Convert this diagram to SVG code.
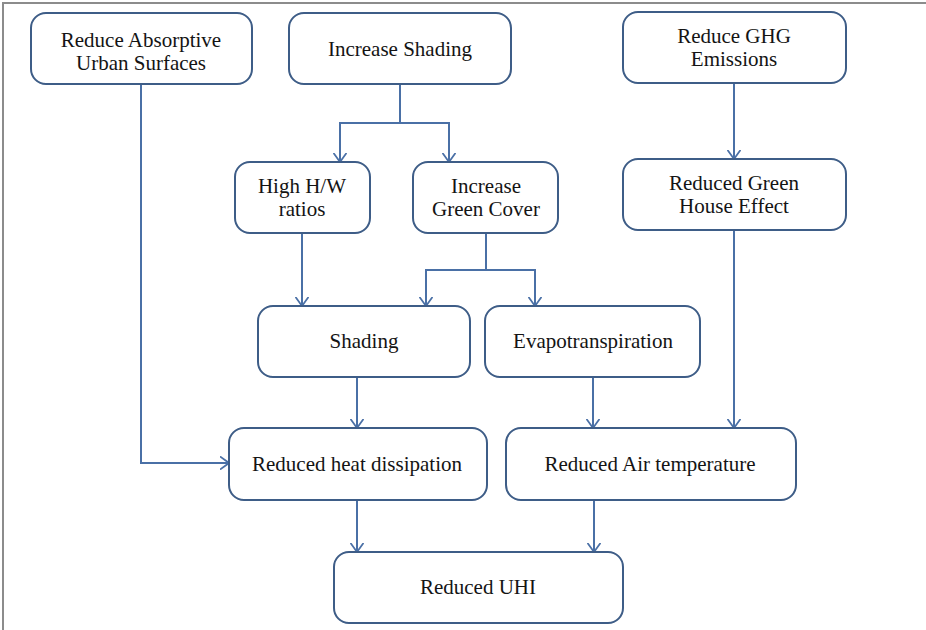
<svg xmlns="http://www.w3.org/2000/svg" width="926" height="630" viewBox="0 0 926 630">
<style>
.box{fill:#ffffff;stroke:#3e5d87;stroke-width:2}
.lbl{font-family:"Liberation Serif","Times New Roman",serif;font-size:21px;fill:#141414;text-anchor:middle}
.con{fill:none;stroke:#4a70a6;stroke-width:2}
</style>
<defs>
<marker id="arr" viewBox="0 0 10 14" refX="9.5" refY="7" markerWidth="10" markerHeight="14" markerUnits="userSpaceOnUse" orient="auto">
<path d="M0.5,0.5 L9.5,7 L0.5,13.5" fill="none" stroke="#4a70a6" stroke-width="1.8"/>
</marker>
</defs>
<rect width="926" height="630" fill="#ffffff"/>
<path d="M3,630 V3 H926" fill="none" stroke="#8c8c8c" stroke-width="2"/>
<g id="connectors">
<path class="con" d="M141,84 V463 H229" marker-end="url(#arr)"/>
<path class="con" d="M400,84 V123 H340 V162" marker-end="url(#arr)"/>
<path class="con" d="M400,123 H449 V162" marker-end="url(#arr)"/>
<path class="con" d="M734,83 V159" marker-end="url(#arr)"/>
<path class="con" d="M302,233 V306" marker-end="url(#arr)"/>
<path class="con" d="M486,233 V270 H426 V306" marker-end="url(#arr)"/>
<path class="con" d="M486,270 H535 V306" marker-end="url(#arr)"/>
<path class="con" d="M734,230 V428" marker-end="url(#arr)"/>
<path class="con" d="M357,377 V428" marker-end="url(#arr)"/>
<path class="con" d="M593,377 V428" marker-end="url(#arr)"/>
<path class="con" d="M357,500 V552" marker-end="url(#arr)"/>
<path class="con" d="M594,500 V552" marker-end="url(#arr)"/>
</g>
<g id="n-absorptive">
<rect class="box" x="31" y="13" width="221" height="71" rx="15"/>
<text class="lbl" x="141" y="47">Reduce Absorptive</text>
<text class="lbl" x="141" y="70">Urban Surfaces</text>
</g>
<g id="n-shading-inc">
<rect class="box" x="289" y="13" width="222" height="71" rx="15"/>
<text class="lbl" x="400" y="56">Increase Shading</text>
</g>
<g id="n-ghg">
<rect class="box" x="623" y="12" width="223" height="71" rx="15"/>
<text class="lbl" x="734" y="43">Reduce GHG</text>
<text class="lbl" x="734" y="66">Emissions</text>
</g>
<g id="n-hw">
<rect class="box" x="235" y="162" width="135" height="71" rx="15"/>
<text class="lbl" x="302" y="193">High H/W</text>
<text class="lbl" x="302" y="216">ratios</text>
</g>
<g id="n-green">
<rect class="box" x="413" y="162" width="145" height="71" rx="15"/>
<text class="lbl" x="486" y="193">Increase</text>
<text class="lbl" x="486" y="216">Green Cover</text>
</g>
<g id="n-greenhouse">
<rect class="box" x="623" y="159" width="223" height="71" rx="15"/>
<text class="lbl" x="734" y="190">Reduced Green</text>
<text class="lbl" x="734" y="213">House Effect</text>
</g>
<g id="n-shading">
<rect class="box" x="258" y="306" width="212" height="71" rx="15"/>
<text class="lbl" x="364" y="348">Shading</text>
</g>
<g id="n-evapo">
<rect class="box" x="485" y="306" width="215" height="71" rx="15"/>
<text class="lbl" x="593" y="348">Evapotranspiration</text>
</g>
<g id="n-heat">
<rect class="box" x="229" y="428" width="258" height="72" rx="15"/>
<text class="lbl" x="357" y="471">Reduced heat dissipation</text>
</g>
<g id="n-air">
<rect class="box" x="506" y="428" width="290" height="72" rx="15"/>
<text class="lbl" x="650" y="471">Reduced Air temperature</text>
</g>
<g id="n-uhi">
<rect class="box" x="334" y="552" width="289" height="71" rx="15"/>
<text class="lbl" x="478" y="594">Reduced UHI</text>
</g>
</svg>
